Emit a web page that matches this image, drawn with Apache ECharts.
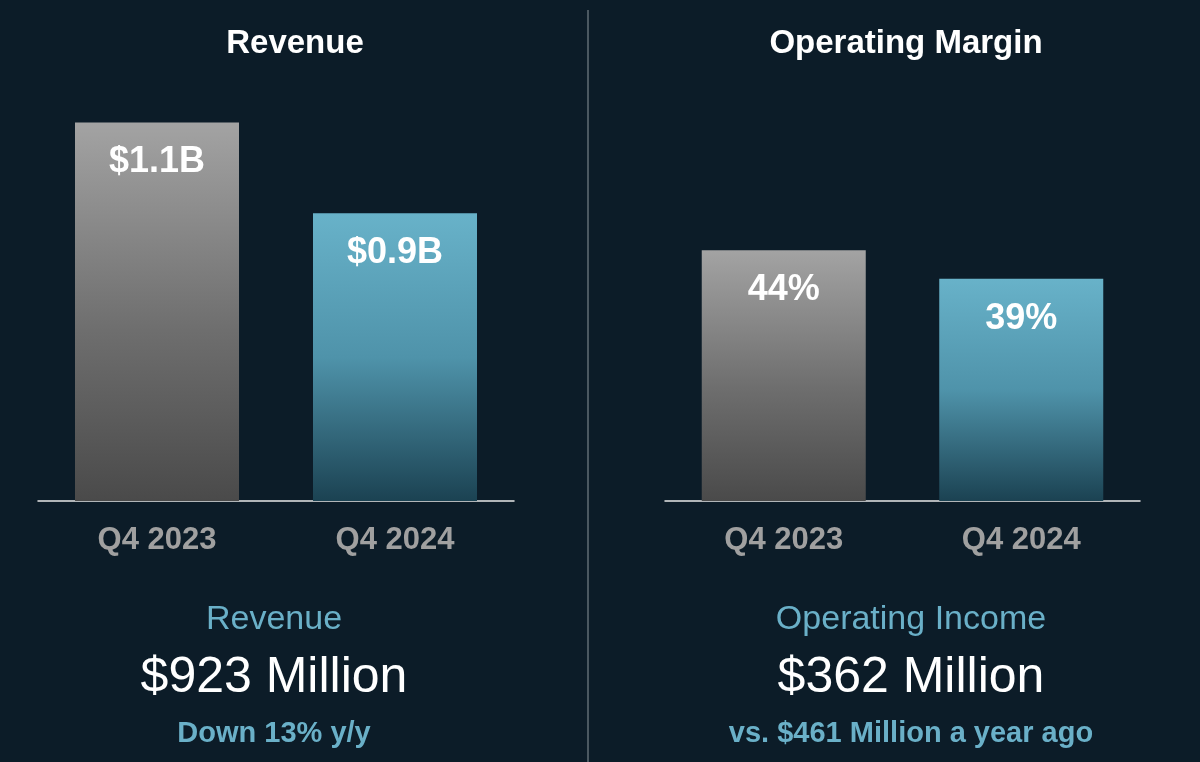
<!DOCTYPE html>
<html><head><meta charset="utf-8">
<script src="https://cdn.jsdelivr.net/npm/echarts@6/dist/echarts.min.js"></script>
<style>html,body{margin:0;padding:0;background:#0c1c28;}#c{width:1200px;height:762px;}</style>
</head><body><div id="c"></div>
<script>
const categories = ['Q4 2023', 'Q4 2024'];
const revenueValues = [1.1, 0.836];
const revenueLabels = ['$1.1B', '$0.9B'];
const marginValues = [44, 39];
const marginLabels = ['44%', '39%'];

const F = 'Liberation Sans, Arial, sans-serif';
const grayGrad = {type:'linear',x:0,y:0,x2:0,y2:1,colorStops:[{offset:0,color:'#a3a3a3'},{offset:0.55,color:'#6e6e6e'},{offset:1,color:'#4a4a4a'}]};
const tealGrad = {type:'linear',x:0,y:0,x2:0,y2:1,colorStops:[{offset:0,color:'#68b2c9'},{offset:0.5,color:'#4f93aa'},{offset:1,color:'#1b4252'}]};
function series(idx, vals, labels){
  return {type:'bar', xAxisIndex:idx, yAxisIndex:idx, barWidth:164,
    data: vals.map((v,i)=>({value:v, itemStyle:{color:i===0?grayGrad:tealGrad},
      label:{show:true, position:'insideTop', distance:22, formatter:labels[i], color:'#fff', fontSize:36, fontWeight:'bold', fontFamily:F}}))};
}
function xAx(idx){return {type:'category', gridIndex:idx, data:categories,
  axisLine:{lineStyle:{color:'#e8e8e8',width:1.5}}, axisTick:{show:false},
  axisLabel:{color:'#a0a0a0', fontSize:31, fontWeight:'bold', fontFamily:F, margin:24}};}
function yAx(idx,max){return {type:'value', gridIndex:idx, min:0, max:max, show:false, splitLine:{show:false}};}
const chart = echarts.init(document.getElementById('c'));
chart.setOption({
  backgroundColor:'#0c1c28',
  title:[
    {text:'Revenue', left:290, top:22, textAlign:'center', textStyle:{color:'#fff',fontSize:33,fontWeight:'bold',fontFamily:F}},
    {text:'Operating Margin', left:901, top:22, textAlign:'center', textStyle:{color:'#fff',fontSize:33,fontWeight:'bold',fontFamily:F}}
  ],
  grid:[{left:38, width:476, top:88, height:413},{left:665, width:475, top:45, height:456}],
  xAxis:[xAx(0), xAx(1)],
  yAxis:[yAx(0,1.2), yAx(1,80)],
  series:[series(0,revenueValues,revenueLabels), series(1,marginValues,marginLabels)],
  graphic:[
    {type:'line', shape:{x1:588,y1:10,x2:588,y2:762}, style:{stroke:'#8a949a',lineWidth:1}},
    {type:'text', x:274, y:620, style:{text:'Revenue', fill:'#6ab0c8', font:'34px '+F, textAlign:'center', textVerticalAlign:'middle'}},
    {type:'text', x:274, y:678, style:{text:'$923 Million', fill:'#fff', font:'50px '+F, textAlign:'center', textVerticalAlign:'middle'}},
    {type:'text', x:274, y:734, style:{text:'Down 13% y/y', fill:'#6ab0c8', font:'bold 29px '+F, textAlign:'center', textVerticalAlign:'middle'}},
    {type:'text', x:911, y:620, style:{text:'Operating Income', fill:'#6ab0c8', font:'34px '+F, textAlign:'center', textVerticalAlign:'middle'}},
    {type:'text', x:911, y:678, style:{text:'$362 Million', fill:'#fff', font:'50px '+F, textAlign:'center', textVerticalAlign:'middle'}},
    {type:'text', x:911, y:734, style:{text:'vs. $461 Million a year ago', fill:'#6ab0c8', font:'bold 29px '+F, textAlign:'center', textVerticalAlign:'middle'}}
  ]
});
</script></body></html>
